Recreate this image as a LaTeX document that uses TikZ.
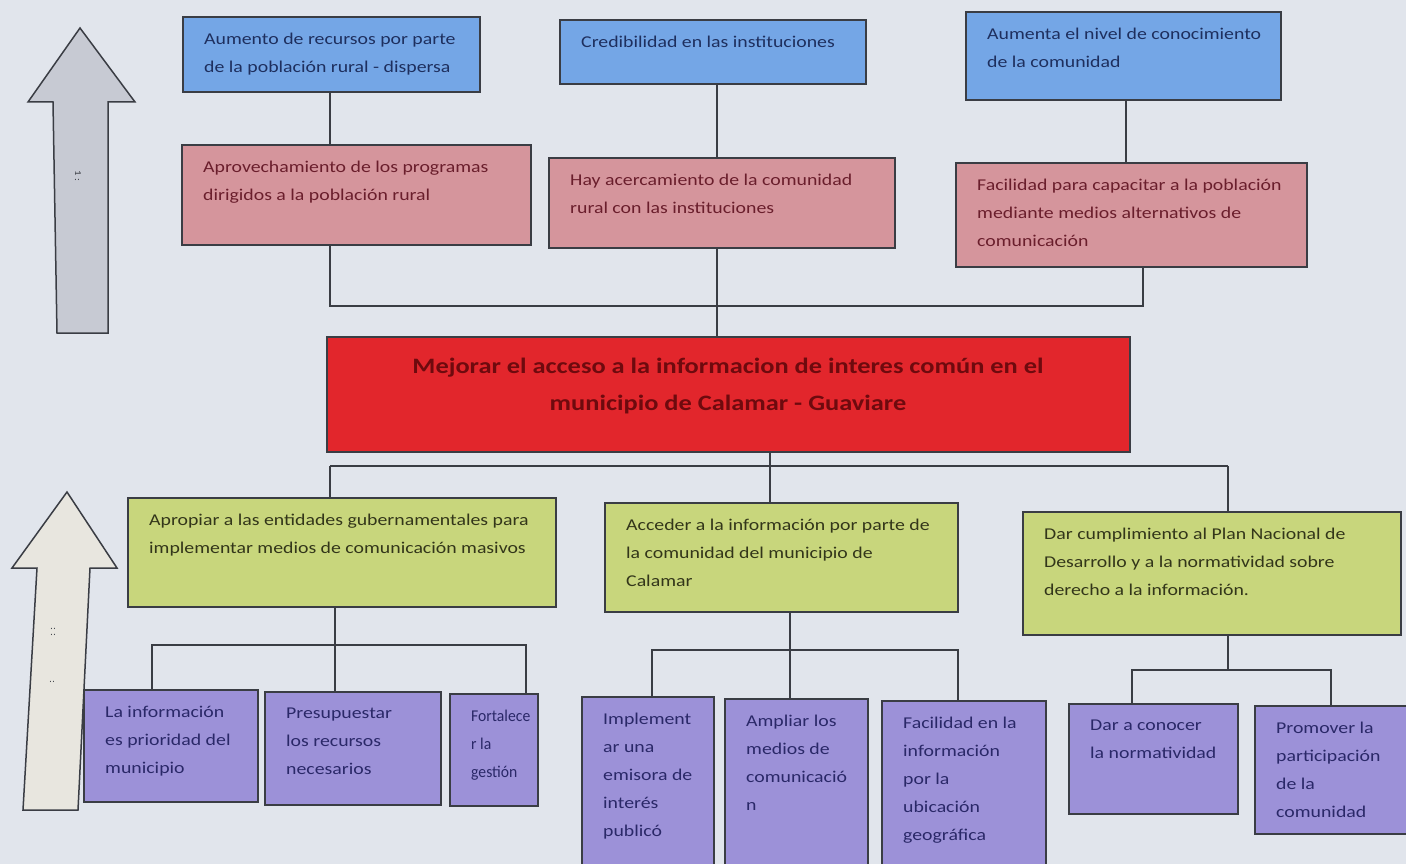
\documentclass[tikz,border=0pt]{standalone}
\usepackage{fontspec}
\setmainfont{Carlito}[FakeStretch=1.2]
\definecolor{bgc}{HTML}{E1E5EC}
\definecolor{linec}{HTML}{3A3D44}
\definecolor{bluef}{HTML}{74A6E6}
\definecolor{bluet}{HTML}{1E2F5E}
\definecolor{pinkf}{HTML}{D5959C}
\definecolor{pinkt}{HTML}{6A1E2C}
\definecolor{greenf}{HTML}{C8D67C}
\definecolor{greent}{HTML}{33361A}
\definecolor{purpf}{HTML}{9C91D8}
\definecolor{purpt}{HTML}{2A2868}
\definecolor{redf}{HTML}{E2262C}
\definecolor{redt}{HTML}{6E0A0E}
\definecolor{arrowA}{HTML}{C7CAD3}
\definecolor{arrowB}{HTML}{E8E6DF}
\tikzset{
  boxbase/.style={rectangle, draw=linec, line width=1.6pt, inner sep=0pt, outer sep=0pt},
  bluebox/.style={boxbase, fill=bluef},
  pinkbox/.style={boxbase, fill=pinkf},
  greenbox/.style={boxbase, fill=greenf},
  purpbox/.style={boxbase, fill=purpf},
  redbox/.style={boxbase, fill=redf},
  txtbase/.style={align=left, inner sep=0pt, font=\fontsize{16.5}{28}\selectfont},
  bluetxt/.style={txtbase, text=bluet},
  pinktxt/.style={txtbase, text=pinkt},
  greentxt/.style={txtbase, text=greent},
  purptxt/.style={txtbase, text=purpt},
  narrowtxt/.style={font=\fontsize{16.5}{28}\selectfont\addfontfeature{FakeStretch=0.95}},
  conn/.style={draw=linec, line width=1.5pt},
  bigarrow/.style={draw=linec, line width=1.5pt, line join=miter},
  marktxt/.style={inner sep=0pt, text=linec, font=\fontsize{9}{9}\selectfont}
}
\newcommand\mybox[8][]{%
  \pgfmathsetmacro\bw{#6-#4}%
  \pgfmathsetmacro\bh{#7-#5}%
  \node[#3box, minimum width=\bw pt, minimum height=\bh pt, anchor=north west] (#2) at (#4,#5) {};
  \node[#3txt, anchor=north west, #1] (#2t) at ([xshift=21pt,yshift=-16pt]#2.north west) {#8};
}
\begin{document}
\begin{tikzpicture}[x=1pt,y=-1pt]
\fill[bgc] (0,0) rectangle (1406,864);
\useasboundingbox (0,0) rectangle (1406,864);
\clip (0,0) rectangle (1406,864);

% big arrows
\draw[bigarrow, fill=arrowA] (80,28) -- (135,102) -- (108,102) -- (108,333) -- (57,333) -- (53,102) -- (28,102) -- cycle;
\node[marktxt, rotate=-90] (m1) at (78,176) {1 :};
\draw[bigarrow, fill=arrowB] (67,492) -- (117,568) -- (90,568) -- (78,810) -- (23,810) -- (37,568) -- (12,568) -- cycle;
\node[marktxt, rotate=-90] (m2) at (53,632) {: :};
\node[marktxt, rotate=-90] (m3) at (52,682) {:};

% top row (blue)
\mybox{B1}{blue}{183}{17}{480}{92}{Aumento de recursos por parte\\de la población rural - dispersa}
\mybox{B2}{blue}{560}{20}{866}{84}{Credibilidad en las instituciones}
\mybox{B3}{blue}{966}{12}{1281}{100}{Aumenta el nivel de conocimiento\\de la comunidad}

% second row (pink)
\mybox{P1}{pink}{182}{145}{531}{245}{Aprovechamiento de los programas\\dirigidos a la población rural}
\mybox{P2}{pink}{549}{158}{895}{248}{Hay acercamiento de la comunidad\\rural con las instituciones}
\mybox{P3}{pink}{956}{163}{1307}{267}{Facilidad para capacitar a la población\\mediante medios alternativos de\\comunicación}

% central red box
\node[redbox, minimum width=803pt, minimum height=115pt, anchor=north west] (R) at (327,337) {};
\node[inner sep=0pt, align=center, text=redt, font=\fontsize{22}{37}\selectfont\bfseries] (Rt) at (728,386)
  {Mejorar el acceso a la informacion de interes común en el\\municipio de Calamar - Guaviare};

% green row
\mybox{G1}{green}{128}{498}{556}{607}{Apropiar a las entidades gubernamentales para\\implementar medios de comunicación masivos}
\mybox{G2}{green}{605}{503}{958}{612}{Acceder a la información por parte de\\la comunidad del municipio de\\Calamar}
\mybox{G3}{green}{1023}{512}{1401}{635}{Dar cumplimiento al Plan Nacional de\\Desarrollo y a la normatividad sobre\\derecho a la información.}

% purple row
\mybox{L1}{purp}{84}{690}{258}{802}{La información\\es prioridad del\\municipio}
\mybox{L2}{purp}{265}{692}{441}{805}{Presupuestar\\los recursos\\necesarios}
\mybox[narrowtxt]{L3}{purp}{450}{694}{538}{806}{Fortalece\\r la\\gestión}
\mybox{M1}{purp}{582}{697}{714}{875}{Implement\\ar una\\emisora de\\interés\\publicó}
\mybox{M2}{purp}{725}{699}{868}{875}{Ampliar los\\medios de\\comunicació\\n}
\mybox{M3}{purp}{882}{701}{1046}{875}{Facilidad en la\\información\\por la\\ubicación\\geográfica}
\mybox{S1}{purp}{1069}{704}{1238}{814}{Dar a conocer\\la normatividad}
\mybox{S2}{purp}{1255}{706}{1410}{834}{Promover la\\participación\\de la\\comunidad}

% connectors top
\coordinate (cb1) at (330,0);
\coordinate (cb2) at (717,0);
\coordinate (cb3) at (1126,0);
\draw[conn] (B1.south -| cb1) -- (P1.north -| cb1);
\draw[conn] (B2.south -| cb2) -- (P2.north -| cb2);
\draw[conn] (B3.south -| cb3) -- (P3.north -| cb3);
\coordinate (t1) at (330,306);
\coordinate (t3) at (1143,306);
\draw[conn] (P1.south -| t1) -- (t1) -- (t3) -- (P3.south -| t3);
\draw[conn] (P2.south -| cb2) -- (R.north -| cb2);

% connectors middle
\coordinate (h0) at (770,466);
\coordinate (h1) at (330,466);
\coordinate (h3) at (1228,466);
\draw[conn] (R.south -| h0) -- (h0);
\draw[conn] (h1) -- (h3);
\draw[conn] (h1) -- (G1.north -| h1);
\draw[conn] (h0) -- (G2.north -| h0);
\draw[conn] (h3) -- (G3.north -| h3);

% connectors bottom
\coordinate (k1) at (335,645);
\coordinate (k1a) at (152,645);
\coordinate (k1b) at (526,645);
\draw[conn] (G1.south -| k1) -- (L2.north -| k1);
\draw[conn] (L1.north -| k1a) -- (k1a) -- (k1b) -- (L3.north -| k1b);
\coordinate (k2) at (790,650);
\coordinate (k2a) at (652,650);
\coordinate (k2b) at (958,650);
\draw[conn] (G2.south -| k2) -- (M2.north -| k2);
\draw[conn] (M1.north -| k2a) -- (k2a) -- (k2b) -- (M3.north -| k2b);
\coordinate (k3) at (1228,670);
\coordinate (k3a) at (1132,670);
\coordinate (k3b) at (1331,670);
\draw[conn] (G3.south -| k3) -- (k3);
\draw[conn] (S1.north -| k3a) -- (k3a) -- (k3b) -- (S2.north -| k3b);
\end{tikzpicture}
\end{document}
